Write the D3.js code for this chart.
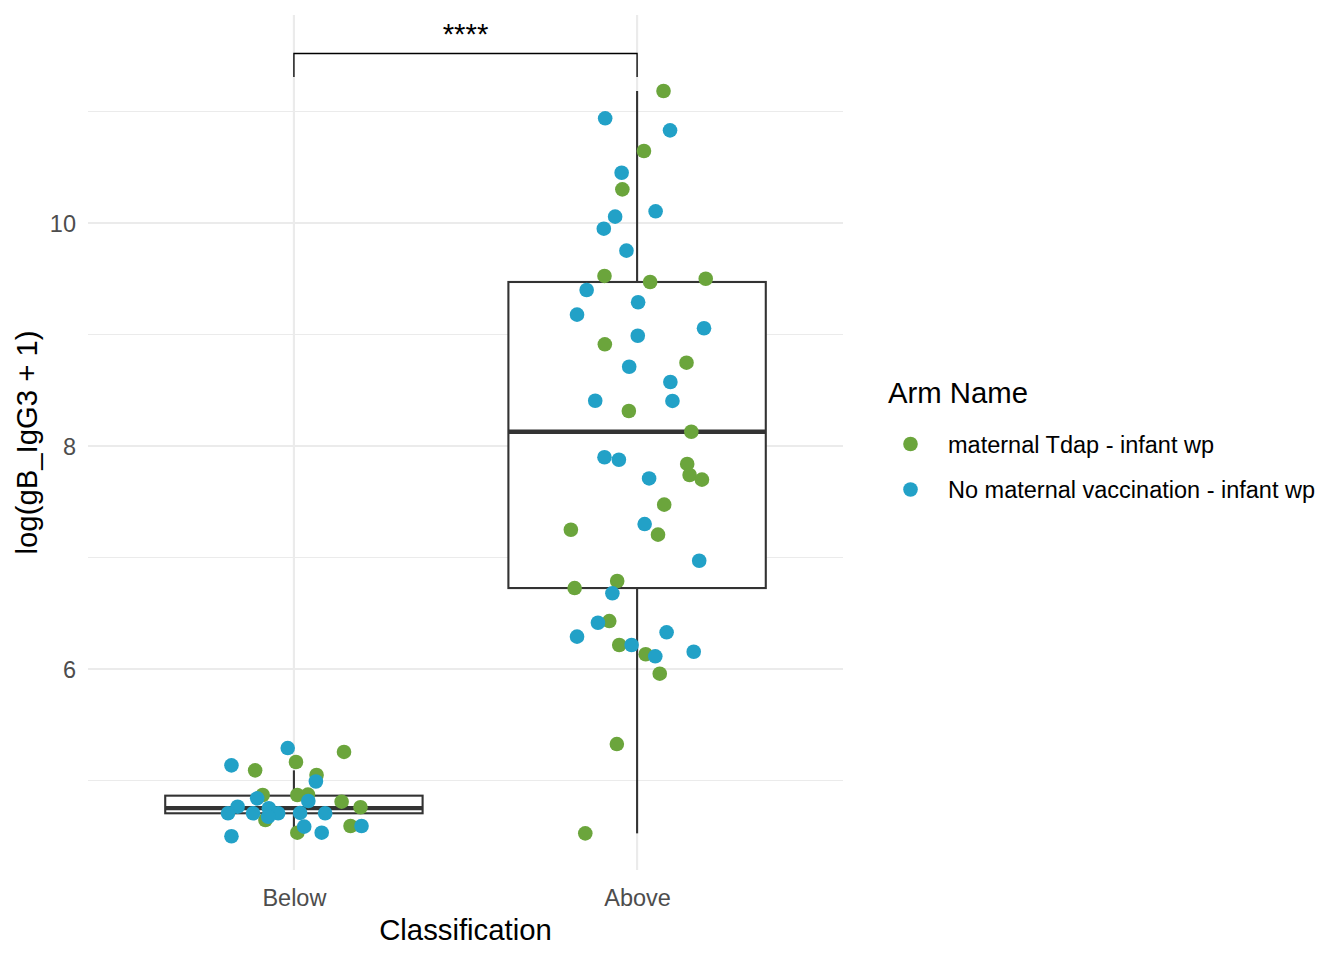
<!DOCTYPE html>
<html>
<head>
<meta charset="utf-8">
<script src="https://cdn.jsdelivr.net/npm/d3@7"></script>
<style>
  html, body { margin: 0; padding: 0; background: #fff; }
  svg { display: block; font-family: "Liberation Sans", Arial, Helvetica, sans-serif; }
</style>
</head>
<body>
<svg id="chart" width="1344" height="960"></svg>
<script>
// ---------- data ----------
const categories = ["Below", "Above"];
const arms = ["maternal Tdap - infant wp", "No maternal vaccination - infant wp"];
const armColors = ["#6BA53C", "#22A1C7"];
const yTicks = [6, 8, 10];
const yMinor = [5, 7, 9, 11];

// Below / maternal Tdap
const belowTdapValue  = [5.256, 5.091, 5.166, 5.049, 4.870, 4.646, 4.870, 4.874, 4.810, 4.760, 4.532, 4.592];
const belowTdapJitter = [0.146, -0.113, 0.006, 0.066, -0.091, -0.083, 0.010, 0.041, 0.139, 0.194, 0.010, 0.165];
// Below / No maternal vaccination
const belowNoneValue  = [5.291, 5.136, 4.991, 4.840, 4.765, 4.706, 4.706, 4.751, 4.706, 4.675, 4.816, 4.709, 4.706, 4.586, 4.532, 4.592, 4.500];
const belowNoneJitter = [-0.018, -0.182, 0.064, -0.107, -0.164, -0.192, -0.119, -0.073, -0.046, -0.075, 0.042, 0.018, 0.091, 0.030, 0.081, 0.197, -0.182];
// Above / maternal Tdap
const aboveTdapValue  = [11.184, 10.646, 10.302, 9.525, 9.471, 9.500, 8.912, 8.747, 8.314, 8.128, 7.839, 7.740, 7.698, 7.474, 7.249, 7.205, 6.789, 6.726, 6.430, 6.215, 6.132, 5.958, 5.327, 4.526];
const aboveTdapJitter = [0.077, 0.020, -0.043, -0.095, 0.038, 0.200, -0.094, 0.144, -0.024, 0.158, 0.146, 0.153, 0.189, 0.079, -0.193, 0.061, -0.058, -0.182, -0.081, -0.052, 0.025, 0.066, -0.059, -0.151];
// Above / No maternal vaccination
const aboveNoneValue  = [10.939, 10.831, 10.451, 10.105, 10.057, 9.949, 9.752, 9.399, 9.289, 9.178, 9.056, 8.989, 8.711, 8.574, 8.406, 8.404, 7.899, 7.877, 7.709, 7.300, 6.971, 6.679, 6.415, 6.290, 6.329, 6.215, 6.114, 6.155];
const aboveNoneJitter = [-0.093, 0.096, -0.045, 0.054, -0.064, -0.097, -0.031, -0.147, 0.003, -0.175, 0.195, 0.002, -0.023, 0.097, -0.122, 0.103, -0.095, -0.053, 0.035, 0.022, 0.181, -0.072, -0.114, -0.175, 0.086, -0.016, 0.053, 0.165];

// box summaries: [lower whisker, Q1, median, Q3, upper whisker]
const boxBelow = [4.500, 4.706, 4.752, 4.864, 5.091];
const boxAbove = [4.526, 6.726, 8.128, 9.471, 11.184];

const sigLabel = "****";
const sigY = 11.52;          // bracket height (data units)
const sigTickBottom = 11.31;

// ---------- layout ----------
const svg = d3.select("#chart");
const panel = { left: 88, right: 843, top: 15, bottom: 870 };
const small = 23.5, big = 29.3;

const x = d3.scaleLinear().domain([0.4, 2.6]).range([panel.left, panel.right]);
const y = d3.scaleLinear().domain([6, 8]).range([669, 446]);
const catPos = c => categories.indexOf(c) + 1;

const g = svg.append("g");

// grid
g.selectAll("line.minor").data(yMinor).join("line")
  .attr("x1", panel.left).attr("x2", panel.right)
  .attr("y1", d => y(d)).attr("y2", d => y(d))
  .attr("stroke", "#EBEBEB").attr("stroke-width", 1.1);
g.selectAll("line.major").data(yTicks).join("line")
  .attr("x1", panel.left).attr("x2", panel.right)
  .attr("y1", d => y(d)).attr("y2", d => y(d))
  .attr("stroke", "#EBEBEB").attr("stroke-width", 2.1);
g.selectAll("line.vmajor").data(categories).join("line")
  .attr("x1", d => x(catPos(d))).attr("x2", d => x(catPos(d)))
  .attr("y1", panel.top).attr("y2", panel.bottom)
  .attr("stroke", "#EBEBEB").attr("stroke-width", 2.1);

// axes (text only, theme_minimal)
const yAxis = d3.axisLeft(y).tickValues(yTicks).tickFormat(d3.format("d")).tickSize(0).tickPadding(0);
const ya = svg.append("g").attr("transform", "translate(76,0)").call(yAxis);
ya.select(".domain").remove();
ya.selectAll("text").attr("font-size", small).attr("fill", "#4D4D4D")
  .attr("font-family", "Liberation Sans, Arial, sans-serif").attr("dy", "0.36em");

const xAxis = d3.axisBottom(x).tickValues([1, 2]).tickFormat(d => categories[d - 1]).tickSize(0).tickPadding(0);
const xa = svg.append("g").attr("transform", "translate(0,906)").call(xAxis);
xa.select(".domain").remove();
xa.selectAll("text").attr("font-size", small).attr("fill", "#4D4D4D")
  .attr("font-family", "Liberation Sans, Arial, sans-serif").attr("dy", "0").attr("y", 0);

// axis titles
svg.append("text").attr("x", (panel.left + panel.right) / 2).attr("y", 940)
  .attr("text-anchor", "middle").attr("font-size", big).attr("fill", "#000")
  .text("Classification");
svg.append("text").attr("transform", `translate(37,${(panel.top + panel.bottom) / 2}) rotate(-90)`)
  .attr("text-anchor", "middle").attr("font-size", big).attr("fill", "#000")
  .text("log(gB_IgG3 + 1)");

// boxplots
const boxes = [{ cat: "Below", s: boxBelow }, { cat: "Above", s: boxAbove }];
const halfW = 0.375;
const boxColor = "#333333";
boxes.forEach(b => {
  const c = catPos(b.cat);
  const [lo, q1, med, q3, hi] = b.s;
  g.append("line").attr("x1", x(c)).attr("x2", x(c)).attr("y1", y(q3)).attr("y2", y(hi))
    .attr("stroke", boxColor).attr("stroke-width", 2.1);
  g.append("line").attr("x1", x(c)).attr("x2", x(c)).attr("y1", y(q1)).attr("y2", y(lo))
    .attr("stroke", boxColor).attr("stroke-width", 2.1);
  g.append("rect").attr("x", x(c - halfW)).attr("width", x(c + halfW) - x(c - halfW))
    .attr("y", y(q3)).attr("height", y(q1) - y(q3))
    .attr("fill", "#fff").attr("stroke", boxColor).attr("stroke-width", 2.1);
  g.append("line").attr("x1", x(c - halfW)).attr("x2", x(c + halfW)).attr("y1", y(med)).attr("y2", y(med))
    .attr("stroke", boxColor).attr("stroke-width", 4.3);
});

// points (Tdap first, then no-vaccination on top)
const series = [
  { cat: "Below", arm: 0, v: belowTdapValue, j: belowTdapJitter },
  { cat: "Above", arm: 0, v: aboveTdapValue, j: aboveTdapJitter },
  { cat: "Below", arm: 1, v: belowNoneValue, j: belowNoneJitter },
  { cat: "Above", arm: 1, v: aboveNoneValue, j: aboveNoneJitter }
];
series.forEach(s => {
  const pts = s.v.map((v, i) => ({ v, j: s.j[i] }));
  g.append("g").selectAll("circle").data(pts).join("circle")
    .attr("cx", d => x(catPos(s.cat) + d.j)).attr("cy", d => y(d.v))
    .attr("r", 7.3).attr("fill", armColors[s.arm]);
});

// significance bracket
const bx1 = x(1), bx2 = x(2);
svg.append("path")
  .attr("d", `M${bx1},${y(sigTickBottom)}V${y(sigY)}H${bx2}V${y(sigTickBottom)}`)
  .attr("fill", "none").attr("stroke", "#000").attr("stroke-width", 1.3);
svg.append("text").attr("x", (bx1 + bx2) / 2).attr("y", 44)
  .attr("text-anchor", "middle").attr("font-size", big).attr("fill", "#000").text(sigLabel);

// legend
const leg = svg.append("g");
leg.append("text").attr("x", 888).attr("y", 403).attr("font-size", big).attr("fill", "#000").text("Arm Name");
arms.forEach((a, i) => {
  const cy = 444 + i * 45.5;
  leg.append("circle").attr("cx", 910.5).attr("cy", cy).attr("r", 7.3).attr("fill", armColors[i]);
  leg.append("text").attr("x", 948).attr("y", cy + 8.5).attr("font-size", small).attr("fill", "#000").text(a);
});
</script>
</body>
</html>
